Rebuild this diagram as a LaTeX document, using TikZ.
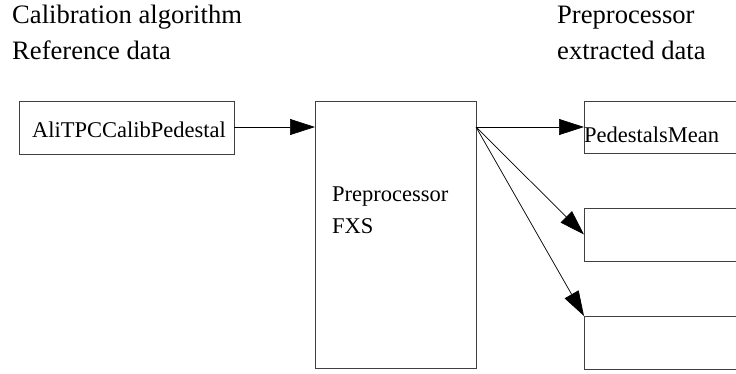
\documentclass[tikz,border=0pt]{standalone}
\usepackage{fontspec}
\setmainfont{Liberation Serif}
\usetikzlibrary{arrows.meta}
\begin{document}
\begin{tikzpicture}[x=1pt,y=-1pt,
  boxnode/.style={draw=black!75,line width=0.8pt,inner sep=0pt,outer sep=0pt},
  head/.style={anchor=base west,inner sep=0pt,font=\fontsize{26.6}{30}\selectfont},
  btext/.style={anchor=base west,inner sep=0pt,font=\fontsize{22.5}{26}\selectfont},
  conn/.style={draw=black,line width=0.7pt,-{Triangle[length=25pt,width=16pt]}}]
\useasboundingbox (0,0) rectangle (736,373);
\clip (0,0) rectangle (736,373);
% headers
\node[head] (h1) at (12,23) {Calibration algorithm};
\node[head] (h2) at (12,59) {Reference data};
\node[head] (h3) at (557,23) {Preprocessor};
\node[head] (h4) at (557,59) {extracted data};
% left box
\node[boxnode,minimum width=214.5pt,minimum height=53pt] (calib) at (126.75,127.5) {};
\node[btext] (calibtext) at (32,137) {AliTPCCalibPedestal};
% middle box
\node[boxnode,minimum width=161pt,minimum height=267pt] (fxs) at (395.5,234.5) {};
\node[btext] (fxs1) at (332,201) {Preprocessor};
\node[btext] (fxs2) at (332,233) {FXS};
\coordinate (fxsin) at (315,127);
\coordinate (fxsout) at (476,127);
% right boxes
\node[boxnode,minimum width=166pt,minimum height=52pt] (r1) at (667,127) {};
\node[btext] (r1text) at (584,142) {PedestalsMean};
\node[boxnode,minimum width=166pt,minimum height=53pt] (r2) at (667,234.5) {};
\node[boxnode,minimum width=166pt,minimum height=53pt] (r3) at (667,342.5) {};
% connectors
\draw[conn] (calib.east |- fxsin) -- (fxsin);
\draw[conn] (fxsout) -- (r1.west);
\draw[conn] (fxsout) -- (r2.west);
\draw[conn] (fxsout) -- (r3.north west);
\end{tikzpicture}
\end{document}
